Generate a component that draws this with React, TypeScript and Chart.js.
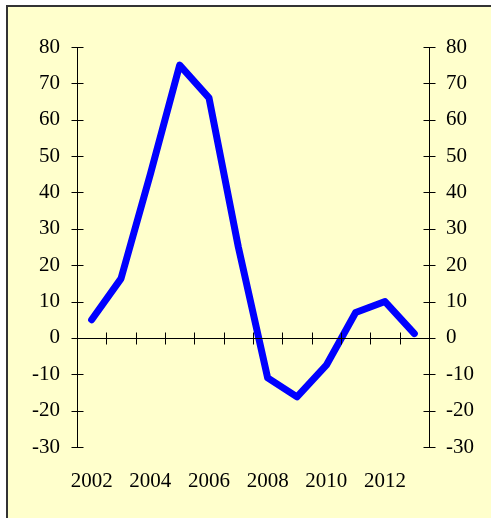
import React, { useEffect, useRef } from "react";
import { Chart, registerables } from "chart.js";

Chart.register(...registerables);

const years = ["2002", "2003", "2004", "2005", "2006", "2007", "2008", "2009", "2010", "2011", "2012", "2013"];
const values = [5, 16.3, 45, 75, 66, 25, -11, -16.2, -7.5, 7, 10, 1.2];
const yMin = -30;
const yMax = 80;
const yStep = 10;

const FONT = "'Liberation Serif', 'Times New Roman', serif";

const axisPlugin = {
  id: "crossAxes",
  afterDatasetsDraw(chart: any) {
    const { ctx, chartArea, scales } = chart;
    const y = scales.y;
    const x = scales.x;
    const L = Math.round(chartArea.left) + 0.5;
    const R = Math.round(chartArea.right) + 0.5;
    const T = chartArea.top;
    const B = chartArea.bottom;
    ctx.save();
    ctx.strokeStyle = "#000";
    ctx.lineWidth = 1;
    ctx.beginPath();
    ctx.moveTo(L, T);
    ctx.lineTo(L, B);
    ctx.moveTo(R, T);
    ctx.lineTo(R, B);
    for (let v = yMin; v <= yMax; v += yStep) {
      const py = Math.round(y.getPixelForValue(v)) + 0.5;
      ctx.moveTo(L - 6, py);
      ctx.lineTo(L + 6, py);
      ctx.moveTo(R - 6, py);
      ctx.lineTo(R + 6, py);
    }
    const zy = Math.round(y.getPixelForValue(0)) + 0.5;
    ctx.moveTo(L, zy);
    ctx.lineTo(R, zy);
    const n = years.length;
    for (let i = 1; i < n; i++) {
      const px = Math.round((x.getPixelForValue(i - 1) + x.getPixelForValue(i)) / 2) + 0.5;
      ctx.moveTo(px, zy - 6);
      ctx.lineTo(px, zy + 6);
    }
    ctx.stroke();
    ctx.restore();
  },
};

export default function App() {
  const ref = useRef<HTMLCanvasElement | null>(null);
  useEffect(() => {
    if (!ref.current) return;
    const chart = new Chart(ref.current, {
      type: "line",
      data: {
        labels: years,
        datasets: [
          {
            data: values,
            borderColor: "#0000FF",
            borderWidth: 7,
            borderCapStyle: "round",
            borderJoinStyle: "round",
            pointRadius: 0,
            tension: 0,
            fill: false,
          },
        ],
      },
      options: {
        responsive: false,
        animation: false,
        layout: { padding: { top: 47, left: 0, right: 0, bottom: 0 } },
        plugins: { legend: { display: false }, tooltip: { enabled: false } },
        scales: {
          x: {
            type: "category",
            offset: true,
            grid: { display: false },
            border: { display: false },
            ticks: {
              autoSkip: false,
              maxRotation: 0,
              padding: 14,
              color: "#000",
              font: { family: FONT, size: 21 },
              callback: (_v: any, i: number) => (i % 2 === 0 ? years[i] : ""),
            },
            afterFit: (s: any) => {
              s.height = 71;
            },
          },
          y: {
            position: "left",
            min: yMin,
            max: yMax,
            grid: { display: false },
            border: { display: false },
            ticks: { stepSize: yStep, padding: 9, color: "#000", font: { family: FONT, size: 21 } },
            afterFit: (s: any) => {
              s.width = 77;
            },
          },
          y2: {
            position: "right",
            min: yMin,
            max: yMax,
            grid: { display: false },
            border: { display: false },
            ticks: { stepSize: yStep, padding: 9, color: "#000", font: { family: FONT, size: 21 } },
            afterFit: (s: any) => {
              s.width = 62;
            },
          },
        },
      },
      plugins: [axisPlugin],
    } as any);
    return () => chart.destroy();
  }, []);
  return (
    <div>
      <div
        style={{
          position: "fixed",
          left: 6,
          top: 5,
          width: 600,
          height: 600,
          border: "2px solid #333",
          background: "#FFFFCC",
        }}
      />
      <canvas
        ref={ref}
        width={491}
        height={518}
        style={{ position: "fixed", left: 0, top: 0, width: 491, height: 518 }}
      />
    </div>
  );
}
